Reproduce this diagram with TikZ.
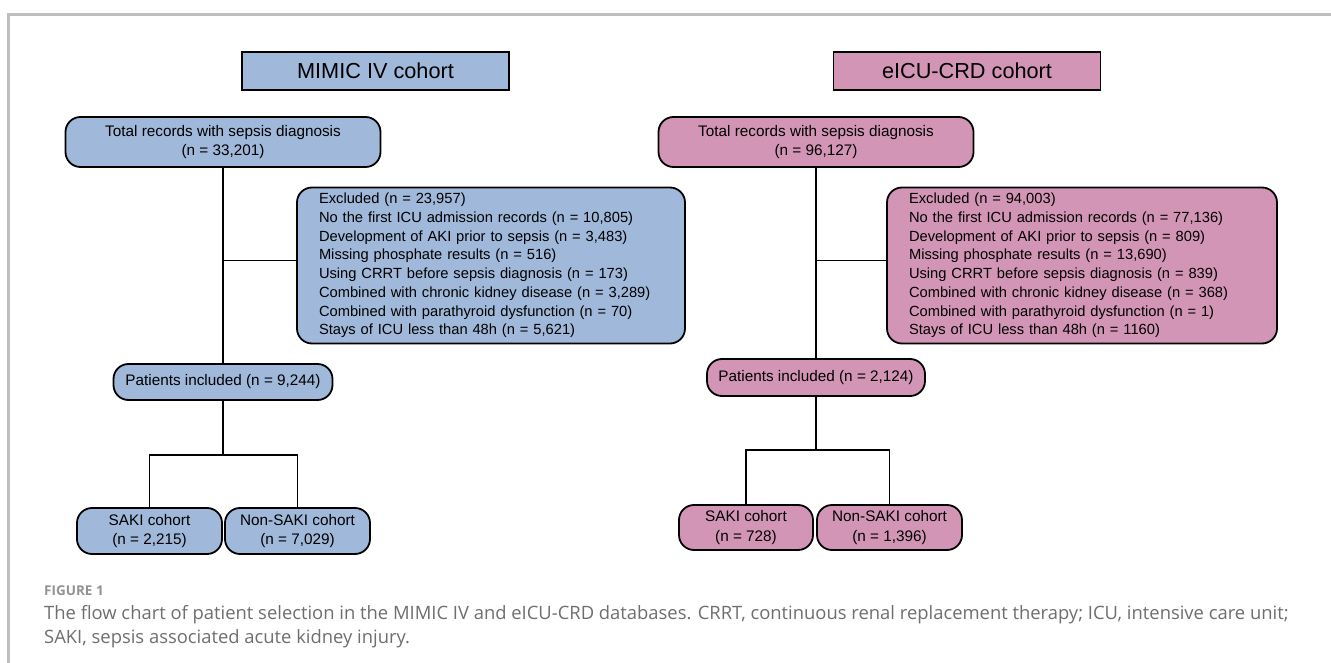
\documentclass[tikz,border=0pt]{standalone}
\usepackage{fontspec}
\setmainfont{Liberation Sans}
\newfontfamily\captionfont{Open Sans}
\usetikzlibrary{positioning}
\definecolor{mimicblue}{HTML}{A0B8DA}
\definecolor{eicupink}{HTML}{D395B5}
\definecolor{framegray}{HTML}{BEBEBE}
\definecolor{captiongray}{HTML}{6E6E6E}

\begin{document}
\begin{tikzpicture}[x=1pt, y=-1pt,
    headbox/.style={draw, line width=1.8pt, minimum width=267pt, minimum height=38pt, inner sep=0pt, font=\fontsize{21.7}{26}\selectfont},
    flowbox/.style={draw, line width=1.8pt, rounded corners=15pt, inner sep=0pt, align=center, font=\fontsize{15.3}{19.5}\selectfont},
    exclbox/.style={flowbox, align=left, inner xsep=22pt, minimum height=156pt, font=\fontsize{14.7}{18.7}\selectfont},
    link/.style={line width=1.8pt},
  ]
  \useasboundingbox (0,0) rectangle (1331,663);
  \draw[framegray, line width=3pt] (8,663) -- (8,15) -- (1331,15);

  % MIMIC IV side
  \node[headbox, fill=mimicblue] (mhead) at (375.5,71) {MIMIC IV cohort};
  \node[flowbox, fill=mimicblue, minimum width=315pt, minimum height=50pt] (mtotal) at (223,142) {Total records with sepsis diagnosis\\(n = 33,201)};
  \node[exclbox, fill=mimicblue, text width=344pt] (mexcl) at (491,265.5) {Excluded (n = 23,957)\\
    No the first ICU admission records (n = 10,805)\\
    Development of AKI prior to sepsis (n = 3,483)\\
    Missing phosphate results (n = 516)\\
    Using CRRT before sepsis diagnosis (n = 173)\\
    Combined with chronic kidney disease (n = 3,289)\\
    Combined with parathyroid dysfunction (n = 70)\\
    Stays of ICU less than 48h (n = 5,621)};
  \node[flowbox, fill=mimicblue, minimum width=219pt, minimum height=36pt] (mpat) at (223,382) {Patients included (n = 9,244)};
  \node[flowbox, fill=mimicblue, minimum width=145pt, minimum height=46pt] (msaki) at (149.5,531) {SAKI cohort\\(n = 2,215)};
  \node[flowbox, fill=mimicblue, minimum width=145pt, minimum height=46pt] (mnon) at (297.5,531) {Non-SAKI cohort\\(n = 7,029)};

  \draw[link] (mtotal) -- (mpat);
  \draw[link] ([yshift=5pt]mexcl.west) -- ([yshift=5pt]mexcl.west -| mtotal);
  \draw[link] (mpat.south) -- ++(0,54) coordinate (msplit);
  \draw[link] (msaki.north) |- (msplit) -| (mnon.north);

  % eICU-CRD side
  \node[headbox, fill=eicupink] (ehead) at (967,71) {eICU-CRD cohort};
  \node[flowbox, fill=eicupink, minimum width=315pt, minimum height=50pt] (etotal) at (816,142) {Total records with sepsis diagnosis\\(n = 96,127)};
  \node[exclbox, fill=eicupink, text width=346pt] (eexcl) at (1082,265.5) {Excluded (n = 94,003)\\
    No the first ICU admission records (n = 77,136)\\
    Development of AKI prior to sepsis (n = 809)\\
    Missing phosphate results (n = 13,690)\\
    Using CRRT before sepsis diagnosis (n = 839)\\
    Combined with chronic kidney disease (n = 368)\\
    Combined with parathyroid dysfunction (n = 1)\\
    Stays of ICU less than 48h (n = 1160)};
  \node[flowbox, fill=eicupink, minimum width=218pt, minimum height=37pt] (epat) at (816,377.5) {Patients included (n = 2,124)};
  \node[flowbox, fill=eicupink, minimum width=134pt, minimum height=45pt] (esaki) at (746,527.5) {SAKI cohort\\(n = 728)};
  \node[flowbox, fill=eicupink, minimum width=145pt, minimum height=45pt] (enon) at (889.5,527.5) {Non-SAKI cohort\\(n = 1,396)};

  \draw[link] (etotal) -- (epat);
  \draw[link] ([yshift=5pt]eexcl.west) -- ([yshift=5pt]eexcl.west -| etotal);
  \draw[link] (epat.south) -- ++(0,53) coordinate (esplit);
  \draw[link] (esaki.north) |- (esplit) -| (enon.north);

  % caption
  \node[anchor=base west, inner sep=0pt, text=captiongray!75, font=\captionfont\fontsize{13.5}{16}\selectfont\bfseries] (figlabel) at (44,595) {FIGURE 1};
  \node[anchor=base west, inner sep=0pt, align=left, text=captiongray, font=\captionfont\fontsize{18.4}{24}\selectfont] (caption) at (44,643) {The flow chart of patient selection in the MIMIC IV and eICU-CRD databases. CRRT, continuous renal replacement therapy; ICU, intensive care unit;\\SAKI, sepsis associated acute kidney injury.};
\end{tikzpicture}
\end{document}
